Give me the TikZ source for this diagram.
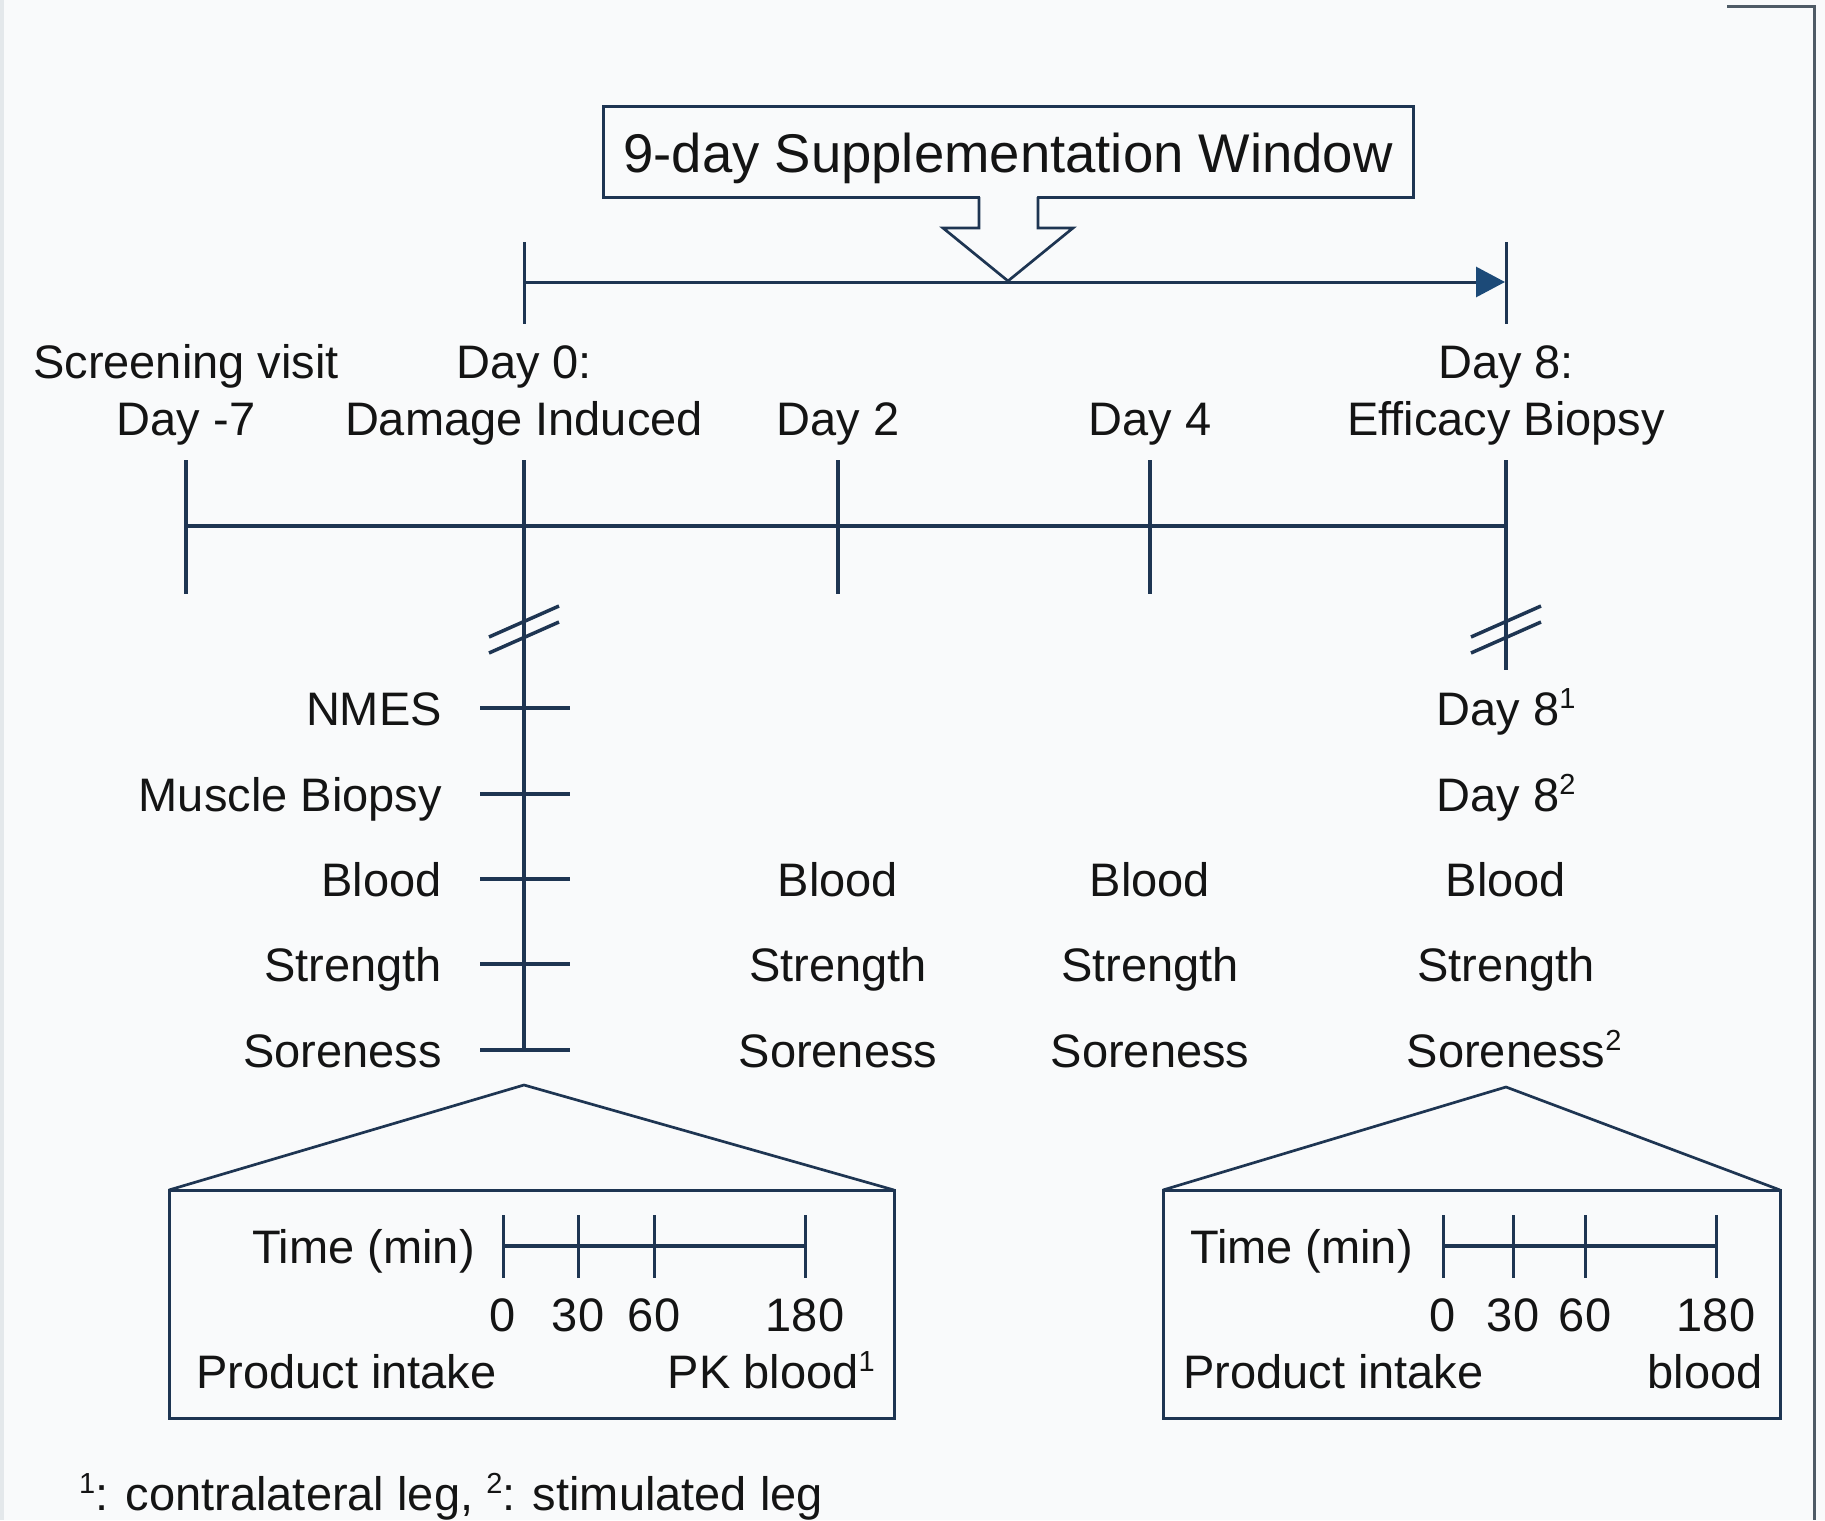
\documentclass[tikz,border=0pt]{standalone}
\usepackage{fontspec}
\setmainfont{Liberation Sans}
\usetikzlibrary{arrows.meta}
\definecolor{navy}{HTML}{1E3552}
\definecolor{tipblue}{HTML}{1C4A78}
\definecolor{bg}{HTML}{F9FAFB}
\definecolor{ink}{HTML}{141414}
\definecolor{framec}{HTML}{4F5B66}
\definecolor{edgec}{HTML}{E4E8EB}
\newcommand\supnum[1]{\raisebox{0.36em}{\fontsize{29}{30}\selectfont #1}}
\begin{document}
\begin{tikzpicture}[x=1pt,y=-1pt,
  ln/.style={draw=navy, line width=3.5pt},
  thin/.style={draw=navy, line width=2.7pt},
  lbl/.style={font=\fontsize{47}{56}\selectfont, text=ink, inner sep=0pt},
  ttl/.style={font=\fontsize{54.5}{66}\selectfont, text=ink, inner sep=0pt}]
\fill[bg] (0,0) rectangle (1825,1520);
\useasboundingbox (0,0) rectangle (1825,1520);
\draw[edgec, line width=4pt] (2,0) -- (2,1520);
\draw[framec, line width=3pt] (1727,7) -- (1814,7) -- (1814,1520);

% title box and hollow arrow
\node[draw=navy, line width=3pt, fill=bg, minimum width=810pt, minimum height=91pt, inner sep=0pt] (title) at (1008,151.5) {};
\node[ttl, anchor=base] (titletxt) at (1008,172) {9-day Supplementation Window};
\fill[bg] (980,194) -- (980,228) -- (943,228) -- (1008,282) -- (1073,228) -- (1037,228) -- (1037,194) -- cycle;
\draw[thin, line join=miter] (979,197) -- (979,228) -- (943,228) -- (1008,281) -- (1073,228) -- (1038,228) -- (1038,197);

% supplementation window
\coordinate (w0) at (524,282);
\coordinate (w8) at (1505,282);
\draw[ln, line width=3pt, -{Triangle[length=29pt,width=30pt,color=tipblue]}] (w0) -- (w8);
\draw[ln, line width=3pt] (524,242) -- (524,324);
\draw[ln, line width=3pt] (1506,242) -- (1506,324);

% day labels
\node[lbl, anchor=base] (scr) at (186,378) {Screening visit};
\node[lbl, anchor=base] (dm7) at (186,435) {Day -7};
\node[lbl, anchor=base] (d0a) at (524,378) {Day 0:};
\node[lbl, anchor=base] (d0b) at (524,435) {Damage Induced};
\node[lbl, anchor=base] (d2) at (838,435) {Day 2};
\node[lbl, anchor=base] (d4) at (1150,435) {Day 4};
\node[lbl, anchor=base] (d8a) at (1506,378) {Day 8:};
\node[lbl, anchor=base] (d8b) at (1506,435) {Efficacy Biopsy};

% main timeline
\draw[ln] (186,526) -- (1506,526);
\draw[ln] (186,460) -- (186,594);
\draw[ln] (838,460) -- (838,594);
\draw[ln] (1150,460) -- (1150,594);
\draw[ln] (524,460) -- (524,1050);
\draw[ln] (1506,460) -- (1506,670);

% breaks
\foreach \cx in {524,1506}{
  \draw[ln] (\cx-35,637) -- (\cx+35,606);
  \draw[ln] (\cx-35,653) -- (\cx+35,622);
}

% left ticks and labels
\foreach \yy in {708,794,879,964,1050}{
  \draw[ln] (480,\yy) -- (570,\yy);
}
\node[lbl, anchor=base east] (nmes) at (442,725) {NMES};
\node[lbl, anchor=base east] (mb) at (442,811) {Muscle Biopsy};
\node[lbl, anchor=base east] (bl0) at (442,896) {Blood};
\node[lbl, anchor=base east] (st0) at (442,981) {Strength};
\node[lbl, anchor=base east] (so0) at (442,1067) {Soreness};

% day 2 and day 4 columns
\node[lbl, anchor=base] (bl2) at (838,896) {Blood};
\node[lbl, anchor=base] (st2) at (838,981) {Strength};
\node[lbl, anchor=base] (so2) at (838,1067) {Soreness};
\node[lbl, anchor=base] (bl4) at (1150,896) {Blood};
\node[lbl, anchor=base] (st4) at (1150,981) {Strength};
\node[lbl, anchor=base] (so4) at (1150,1067) {Soreness};

% day 8 column
\node[lbl, anchor=base] (d8s1) at (1506,725) {Day 8\supnum{1}};
\node[lbl, anchor=base] (d8s2) at (1506,811) {Day 8\supnum{2}};
\node[lbl, anchor=base] (bl8) at (1506,896) {Blood};
\node[lbl, anchor=base] (st8) at (1506,981) {Strength};
\node[lbl, anchor=base] (so8) at (1506,1067) {Soreness\rlap{\supnum{2}}};

% left zoom box
\draw[thin] (169,1190) -- (524,1085) -- (894,1190);
\draw[ln, line width=3pt] (169,1190) rectangle (894,1418);
\draw[ln] (503,1246) -- (805,1246);
\foreach \xx in {503,578,654,805}{
  \draw[ln, line width=3pt] (\xx,1215) -- (\xx,1278);
}
\node[lbl, anchor=base east] (tl) at (475,1263) {Time (min)};
\node[lbl, anchor=base] (l0) at (503,1331) {0};
\node[lbl, anchor=base] (l30) at (578,1331) {30};
\node[lbl, anchor=base] (l60) at (654,1331) {60};
\node[lbl, anchor=base] (l180) at (805,1331) {180};
\node[lbl, anchor=base west] (pil) at (196,1388) {Product intake};
\node[lbl, anchor=base east] (pkb) at (875,1388) {PK blood\supnum{1}};

% right zoom box
\draw[thin] (1163,1190) -- (1506,1087) -- (1780,1190);
\draw[ln, line width=3pt] (1163,1190) rectangle (1780,1418);
\draw[ln] (1443,1246) -- (1716,1246);
\foreach \xx in {1443,1513,1585,1716}{
  \draw[ln, line width=3pt] (\xx,1215) -- (\xx,1278);
}
\node[lbl, anchor=base east] (tr) at (1413,1263) {Time (min)};
\node[lbl, anchor=base] (r0) at (1443,1331) {0};
\node[lbl, anchor=base] (r30) at (1513,1331) {30};
\node[lbl, anchor=base] (r60) at (1585,1331) {60};
\node[lbl, anchor=base] (r180) at (1716,1331) {180};
\node[lbl, anchor=base west] (pir) at (1183,1388) {Product intake};
\node[lbl, anchor=base east] (bdr) at (1763,1388) {blood};

% footnote
\node[lbl, anchor=base west] (foot) at (79,1510) {\supnum{1}: contralateral leg, \supnum{2}: stimulated leg};
\end{tikzpicture}
\end{document}
